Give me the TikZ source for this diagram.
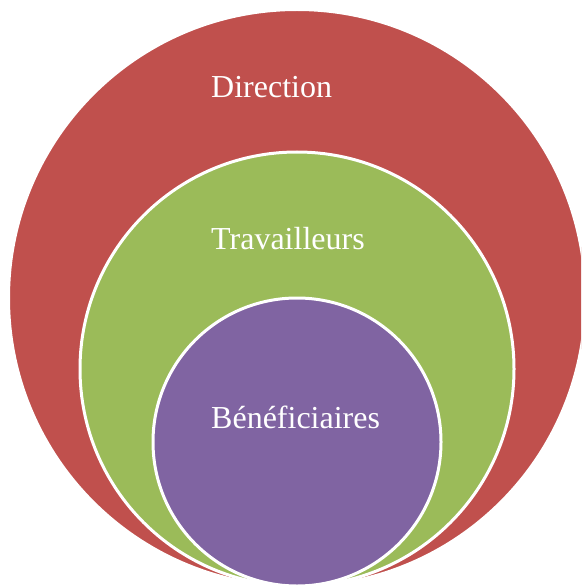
\documentclass[tikz,border=0pt]{standalone}
\usepackage{fontspec}
\setmainfont{Liberation Serif}
\definecolor{ringRed}{HTML}{C0504D}
\definecolor{ringGreen}{HTML}{9BBB59}
\definecolor{ringPurple}{HTML}{8064A2}
\begin{document}
\begin{tikzpicture}[x=1pt, y=-1pt,
    ringStyle/.style={circle, draw=white, line width=3pt, inner sep=0pt, outer sep=0pt},
    labelStyle/.style={anchor=base west, text=white, inner sep=0pt, font=\fontsize{32}{38}\selectfont}]
    \useasboundingbox (0,0) rectangle (581,588);
    \clip (0,0) rectangle (581,588);
    \node[ringStyle, fill=ringRed, minimum size=577pt](outer) at (297, 298) {};
    \node[ringStyle, fill=ringGreen, minimum size=434pt](middle) at (297, 369) {};
    \node[ringStyle, fill=ringPurple, minimum size=288pt](inner) at (297, 442) {};

    \node[labelStyle](direction) at (211, 98) {Direction};
    \node[labelStyle](workers) at (211, 249) {Travailleurs};
    \node[labelStyle](users) at (211, 428) {Bénéficiaires};
\end{tikzpicture}
\end{document}
